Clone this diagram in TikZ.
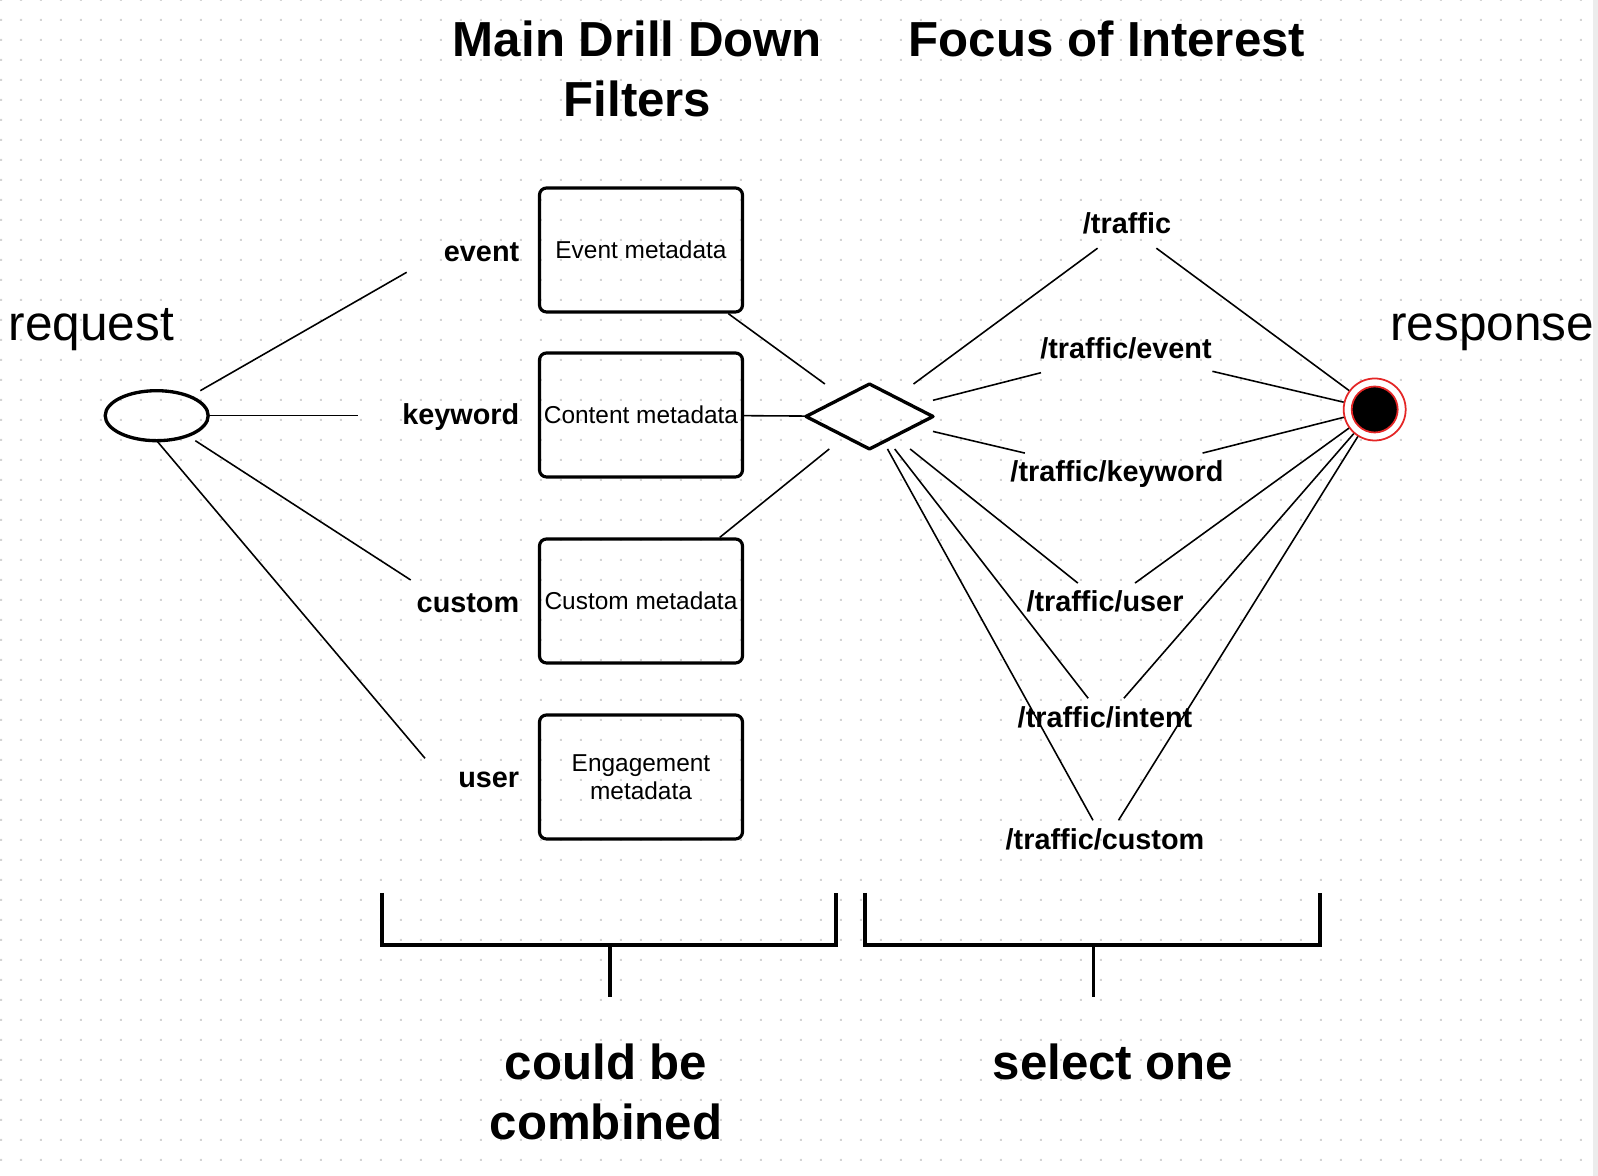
\documentclass[tikz,border=0pt]{standalone}
\usepackage{fontspec}
\setmainfont{Liberation Sans}
\usetikzlibrary{positioning}
\definecolor{DotGray}{RGB}{212,212,212}
\definecolor{BarGray}{RGB}{236,236,236}
\definecolor{EndRed}{RGB}{228,38,38}

\begin{document}
\begin{tikzpicture}[
    box/.style={draw,line width=0.9pt,rounded corners=2pt,minimum width=2.03cm,
                minimum height=1.24cm,inner sep=1pt,align=center,
                font=\fontsize{6.95}{8}\selectfont},
    lbl/.style={inner sep=0pt,yshift=-0.025cm,font=\fontsize{8.2}{10}\selectfont\bfseries},
    route/.style={inner sep=0pt,minimum height=0.42cm,text height=6pt,text depth=2pt,
                  font=\fontsize{8.2}{10}\selectfont\bfseries},
    big/.style={inner sep=0pt,font=\fontsize{14.1}{17.2}\selectfont},
    heading/.style={inner sep=0pt,align=center,font=\fontsize{14}{17.2}\selectfont\bfseries},
    ln/.style={line width=0.45pt},
    heavy/.style={line width=0.95pt},
    gatebox/.style={inner sep=0pt,outer sep=0pt,minimum width=1.27cm,minimum height=0.65cm},
    startbox/.style={inner sep=0pt,outer sep=0pt,minimum width=1.03cm,minimum height=0.5cm},
    endring/.style={circle,draw=EndRed,fill=white,line width=0.5pt,inner sep=0pt,minimum size=0.62cm}
  ]
  \useasboundingbox (0,0) rectangle (15.98,-11.76);
  % dotted grid + scroll strip
  \fill[DotGray] \foreach \i in {0,...,79}{\foreach \j in {0,...,58}{
      (0.2*\i,-0.2*\j+0.01) rectangle ++(0.02,-0.02)}};
  \fill[BarGray] (15.93,0) rectangle (15.98,-11.76);

  % headings
  \node[heading] (ttlfilter) at (6.375,-0.69) {Main Drill Down\\Filters};
  \node[heading,anchor=base] (ttlfocus) at (11.07,-0.57) {Focus of Interest};
  \node[heading] (ttlcomb) at (6.06,-10.92) {could be\\combined};
  \node[heading,anchor=base] (ttlselect) at (11.13,-10.80) {select one};
  \node[big,anchor=base west] (req) at (0.08,-3.41) {request};
  \node[big,anchor=base east] (resp) at (15.95,-3.41) {response};

  % start + filters
  \node[startbox] (start) at (1.567,-4.157) {};
  \draw[heavy] (start.center) ellipse [x radius=0.515cm,y radius=0.25cm];
  \node[box] (evbox) at (6.41,-2.50) {Event metadata};
  \node[box] (cobox) at (6.41,-4.15) {Content metadata};
  \node[box] (cubox) at (6.41,-6.01) {Custom metadata};
  \node[box] (engbox) at (6.41,-7.77) {Engagement\\metadata};
  \node[lbl,left=0.18cm of evbox] (evlbl) {event};
  \node[lbl,left=0.18cm of cobox] (kwlbl) {keyword};
  \node[lbl,left=0.18cm of cubox] (culbl) {custom};
  \node[lbl,left=0.18cm of engbox] (uslbl) {user};
  \coordinate (evend) at (4.067,-2.723);
  \coordinate (kwend) at (3.583,-4.157);
  \coordinate (cuend) at (4.107,-5.80);
  \coordinate (usend) at (4.25,-7.583);
  \draw[ln] (start) -- (evend); \draw[ln] (start) -- (kwend);
  \draw[ln] (start) -- (cuend); \draw[ln] (start.south) -- (usend);

  % gate
  \node[gatebox] (gate) at (8.695,-4.165) {};
  \draw[heavy,line join=round] (gate.west) -- (gate.north) -- (gate.east) -- (gate.south) -- cycle;
  \draw[ln] (evbox) -- (gate); \draw[ln] (cobox) -- (gate); \draw[ln] (cubox) -- (gate);

  % focus routes
  \node[route] (r1) at (11.27,-2.265) {/traffic};
  \node[route] (r2) at (11.26,-3.51) {/traffic/event};
  \node[route] (r3) at (11.17,-4.748) {/traffic/keyword};
  \node[route] (r4) at (11.05,-6.048) {/traffic/user};
  \node[route] (r5) at (11.05,-7.20) {/traffic/intent};
  \node[route] (r6) at (11.05,-8.42) {/traffic/custom};
  \node[endring] (stop) at (13.747,-4.095) {};
  \draw[fill=black,draw=EndRed,line width=0.5pt] (stop.center) circle (0.23);
  \draw[ln] (gate) -- (r1); \draw[ln] (r1) -- (stop);
  \draw[ln] (gate) -- (r2); \draw[ln] (r2) -- (stop);
  \draw[ln] (gate) -- (r3); \draw[ln] (r3) -- (stop);
  \draw[ln] (gate) -- (r4); \draw[ln] (r4) -- (stop);
  \draw[ln] (gate) -- (r5); \draw[ln] (r5) -- (stop);
  \draw[ln] (gate) -- (r6); \draw[ln] (r6) -- (stop);

  % brackets
  \draw[heavy] (3.82,-8.93) |- (8.36,-9.45) -- (8.36,-8.93);
  \draw[heavy] (6.10,-9.45) -- (6.10,-9.97);
  \draw[heavy] (8.65,-8.93) |- (13.20,-9.45) -- (13.20,-8.93);
  \draw[heavy] (10.935,-9.45) -- (10.935,-9.97);
\end{tikzpicture}
\end{document}
